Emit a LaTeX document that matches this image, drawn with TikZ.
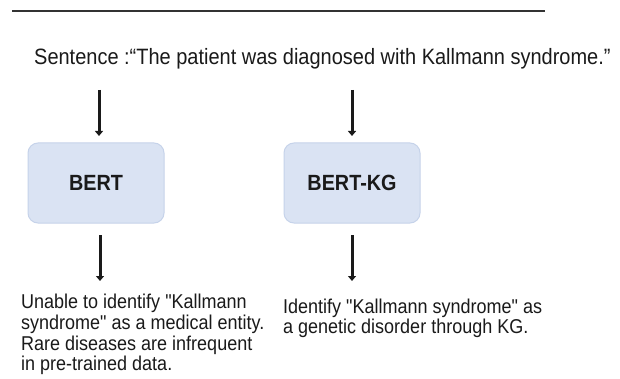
\documentclass[tikz,border=0pt]{standalone}
\usepackage{fontspec}
% TeX ligatures off so that " stays a straight quote
\setmainfont[FakeStretch=0.9,Ligatures=TeXOff]{Liberation Sans}
\usetikzlibrary{arrows.meta}
\definecolor{boxfill}{HTML}{DAE3F3}
\definecolor{boxline}{HTML}{C6D3EA}
\definecolor{ink}{HTML}{1A1A1A}
\definecolor{rule}{HTML}{333333}
\begin{document}
\begin{tikzpicture}[x=1pt,y=-1pt,
  modelbox/.style={draw=boxline,fill=boxfill,line width=1pt,rounded corners=10pt,
    minimum width=136pt,minimum height=80pt,inner sep=0pt,
    font=\fontsize{22}{26}\selectfont\bfseries,text=ink},
  flowarrow/.style={line width=3pt,draw=ink,-{Triangle[width=8pt,length=5pt]}},
  bodytext/.style={anchor=north west,inner sep=0pt,align=left,text=ink,
    font=\fontsize{20}{20.7}\selectfont}]
  \useasboundingbox (0,0) rectangle (620,379);
  \fill[white] (0,0) rectangle (620,379);

  % header rule
  \coordinate (ruleL) at (12,11);
  \coordinate (ruleR) at (545,11);
  \draw[rule,line width=2pt] (ruleL) -- (ruleR);

  % input sentence
  \node[anchor=base west,inner sep=0pt,text=ink,font=\fontsize{22.2}{26}\selectfont]
    (sentence) at (34,65) {Sentence :“The patient was diagnosed with Kallmann syndrome.”};

  % models
  \node[modelbox] (bert) at (96,183) {BERT};
  \node[modelbox] (bertkg) at (352,183) {BERT-KG};

  % outcomes
  \node[bodytext] (outL) at (21,294) {Unable to identify "Kallmann\\syndrome" as a medical entity.\\Rare diseases are infrequent\\in pre-trained data.};
  \node[bodytext] (outR) at (283,298.6) {Identify "Kallmann syndrome" as\\a genetic disorder through KG.};

  % arrow end points
  \coordinate (inL) at (99,90);   \coordinate (inLend) at (99,136);
  \coordinate (inR) at (352,90);  \coordinate (inRend) at (352,136);
  \coordinate (outLs) at (100,235); \coordinate (outLe) at (100,281);
  \coordinate (outRs) at (352,235); \coordinate (outRe) at (352,281);

  \draw[flowarrow] (inL) -- (inLend);
  \draw[flowarrow] (inR) -- (inRend);
  \draw[flowarrow] (outLs) -- (outLe);
  \draw[flowarrow] (outRs) -- (outRe);
\end{tikzpicture}
\end{document}
